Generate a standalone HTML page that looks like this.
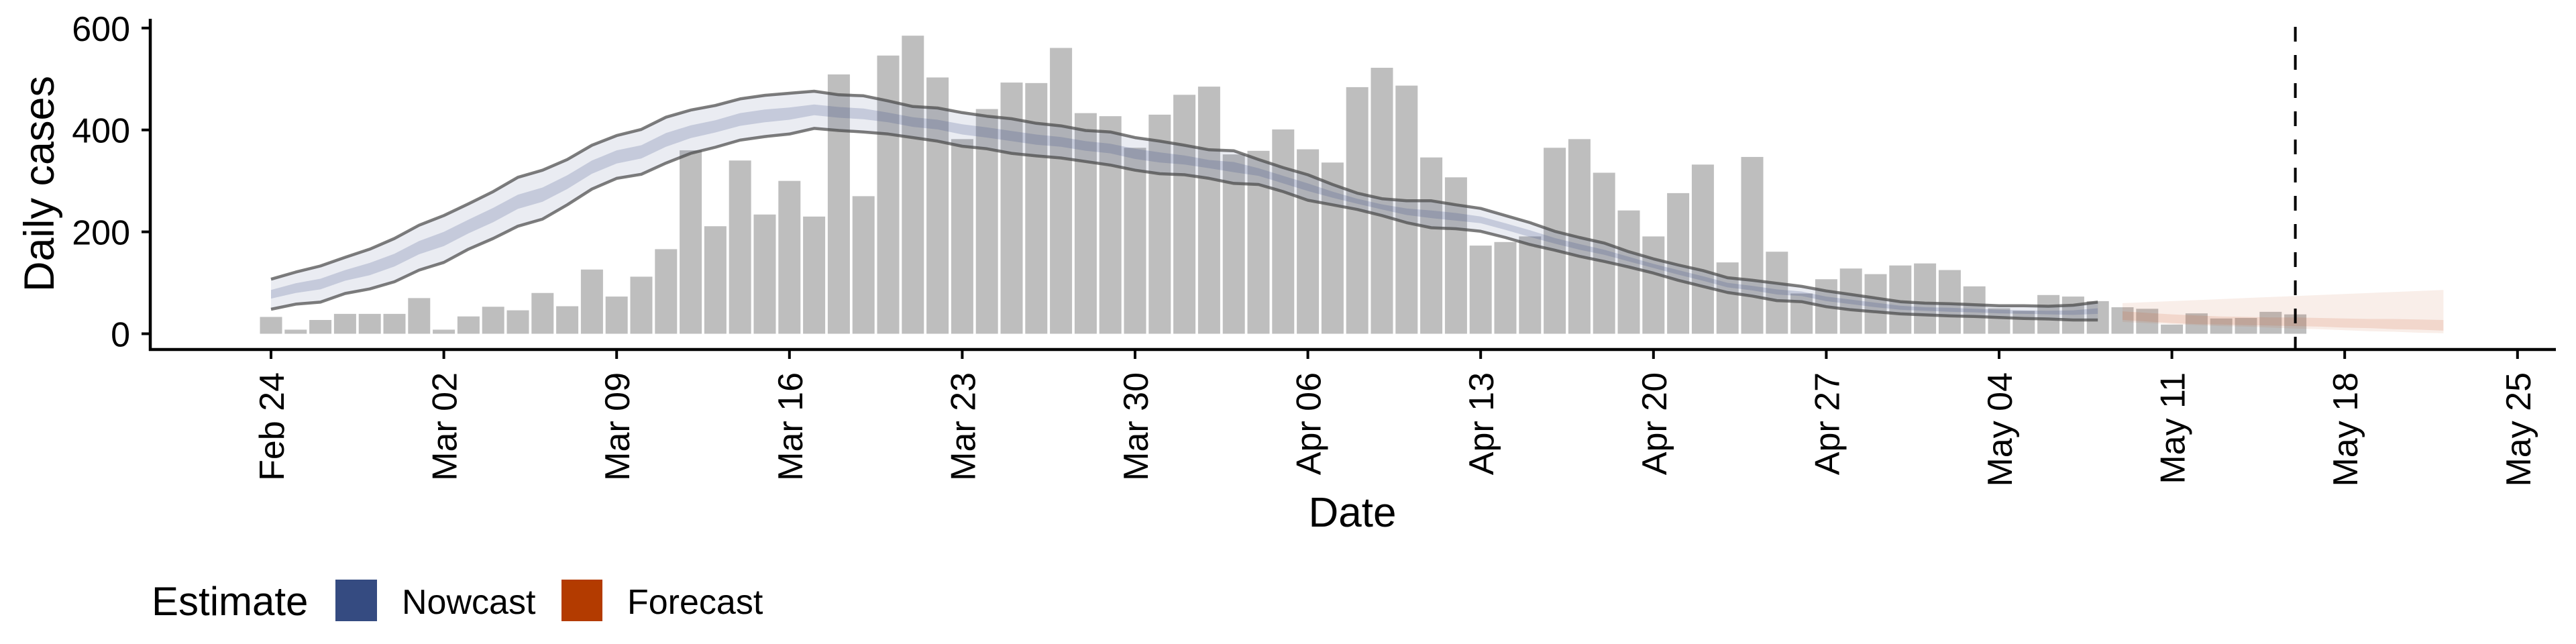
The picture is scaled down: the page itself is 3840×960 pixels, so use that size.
<!DOCTYPE html>
<html><head><meta charset="utf-8"><style>
html,body{margin:0;padding:0;background:#fff;}
svg{display:block;font-family:"Liberation Sans",sans-serif;}
</style></head><body>
<svg id="chart" width="3840" height="960" viewBox="0 0 3840 960" xmlns="http://www.w3.org/2000/svg">
<g id="bars"></g>
<g id="bands"></g>
<g id="axes"></g>
<text transform="translate(80,274) rotate(-90)" text-anchor="middle" font-size="63">Daily cases</text>
<text x="2016" y="785" text-anchor="middle" font-size="62">Date</text>
<g>
<text x="226" y="917" font-size="60">Estimate</text>
<rect x="500" y="864" width="62" height="62" fill="#354b81"/>
<text x="599" y="915" font-size="52">Nowcast</text>
<rect x="837" y="864" width="61" height="62" fill="#b33b00"/>
<text x="935" y="915" font-size="52">Forecast</text>
</g>
</svg>
<script>
const cases=[33,8,27,39,39,39,70,8,34,53,46,80,54,126,73,112,166,360,211,340,234,300,230,509,270,546,585,503,382,441,493,492,561,433,427,365,430,469,485,352,359,401,362,336,484,522,487,346,307,173,180,191,365,382,316,242,191,276,332,140,347,161,79,107,128,117,134,138,125,93,50,45,76,73,64,52,49,18,40,30,31,43,38];
const nowUpper90=[107,121,133,150,166,187,213,232,255,279,307,321,342,370,389,401,425,439,448,461,468,472,476,469,467,457,446,443,434,427,422,413,408,399,396,385,378,370,361,359,342,326,312,293,276,265,261,261,253,246,232,218,201,189,178,161,147,135,124,110,105,99,93,84,77,70,63,60,59,57,55,55,54,56,62];
const nowLower90=[48,58,62,79,88,102,125,140,166,187,211,225,253,284,305,313,335,354,366,380,387,392,403,399,396,392,385,378,368,363,354,349,345,338,331,321,314,312,305,295,293,279,262,253,244,232,218,208,206,201,189,175,164,152,142,131,119,105,93,81,74,65,63,53,47,43,39,37,35,34,32,30,29,27,27];
const nowUpper50=[86,99,108,125,139,157,182,200,224,247,273,287,311,340,360,370,394,409,419,433,440,444,450,445,442,434,425,420,411,405,398,391,386,378,373,363,356,350,341,337,325,310,295,279,265,254,246,242,237,230,217,203,188,176,165,151,137,125,113,100,94,87,83,73,67,61,55,52,51,49,47,46,45,46,50];
const nowLower50=[69,80,87,104,115,132,156,172,197,219,245,259,284,314,334,344,367,384,395,408,415,420,429,424,421,415,406,401,391,385,378,371,367,359,354,343,336,332,325,317,310,295,280,267,255,244,233,227,222,217,204,190,177,165,155,142,129,116,104,91,85,77,74,64,58,52,47,45,43,42,40,39,38,37,39];
const foreUpper90=[60,62,64,66,68,70,72,74,76,78,80,82,84,86];
const foreLower90=[23,21,19,17,15,14,12,10,9,7,5,4,2,1];
const foreUpper50=[44,41,38,36,34,33,32,32,31,30,29,29,28,27];
const foreLower50=[27,24,21,19,18,17,16,15,14,12,11,9,8,6];
const nowStartDay=0, foreStartDay=75, dataDay=82;
const xTickLabels=["Feb 24","Mar 02","Mar 09","Mar 16","Mar 23","Mar 30","Apr 06","Apr 13","Apr 20","Apr 27","May 04","May 11","May 18","May 25"];
const yTickLabels=[0,200,400,600];

const NS="http://www.w3.org/2000/svg";
const X=d=>404+36.8*d;
const Y=v=>497.5-v*0.7595;
function mk(tag,attrs,parent){const e=document.createElementNS(NS,tag);for(const k in attrs)e.setAttribute(k,attrs[k]);parent.appendChild(e);return e;}
const bars=document.getElementById('bars'),bands=document.getElementById('bands'),axes=document.getElementById('axes');
cases.forEach((v,i)=>{const r=mk('rect',{x:X(i)-16.5,y:Y(v),width:33,height:Y(0)-Y(v),fill:'#bebebe'},bars);

});
function band(up,lo,start,fill,name){let p='';up.forEach((v,i)=>{p+=(i?'L':'M')+X(start+i).toFixed(1)+','+Y(v).toFixed(1);});
for(let i=lo.length-1;i>=0;i--)p+='L'+X(start+i).toFixed(1)+','+Y(lo[i]).toFixed(1);
const e=mk('path',{d:p+'Z',fill:fill},bands);

}
function line(arr,start,name){let p='';arr.forEach((v,i)=>{p+=(i?'L':'M')+X(start+i).toFixed(1)+','+Y(v).toFixed(1);});
const e=mk('path',{d:p,fill:'none',stroke:'rgba(70,70,70,0.7)','stroke-width':4.5,'stroke-linejoin':'round'},bands);

}
band(nowUpper90,nowLower90,nowStartDay,'rgba(50,70,130,0.1)','nowcast-band-90');
band(nowUpper50,nowLower50,nowStartDay,'rgba(50,70,130,0.2)','nowcast-band-50');
line(nowUpper90,nowStartDay,'nowcast-upper-line');
line(nowLower90,nowStartDay,'nowcast-lower-line');
band(foreUpper90,foreLower90,foreStartDay,'rgba(200,90,40,0.1)','forecast-band-90');
band(foreUpper50,foreLower50,foreStartDay,'rgba(200,90,40,0.15)','forecast-band-50');
let dl=mk('line',{x1:X(dataDay),x2:X(dataDay),y1:40,y2:521,stroke:'#000','stroke-width':4,'stroke-dasharray':'22,20'},axes);


let ya=mk('line',{x1:224,x2:224,y1:28,y2:523,stroke:'#000','stroke-width':4.5},axes);


let xa=mk('line',{x1:222,x2:3810,y1:521,y2:521,stroke:'#000','stroke-width':4.5},axes);


yTickLabels.forEach(v=>{const t=mk('line',{x1:211,x2:224,y1:Y(v),y2:Y(v),stroke:'#000','stroke-width':4},axes);


const l=mk('text',{x:194,y:Y(v)+19,'text-anchor':'end','font-size':52},axes);l.textContent=v;

});
xTickLabels.forEach((s,i)=>{const x=X(i*7);const t=mk('line',{x1:x,x2:x,y1:521,y2:535,stroke:'#000','stroke-width':4},axes);


const l=mk('text',{transform:'translate('+(x+19)+',555) rotate(-90)','text-anchor':'end','font-size':52},axes);l.textContent=s;

});
</script>
</body></html>
